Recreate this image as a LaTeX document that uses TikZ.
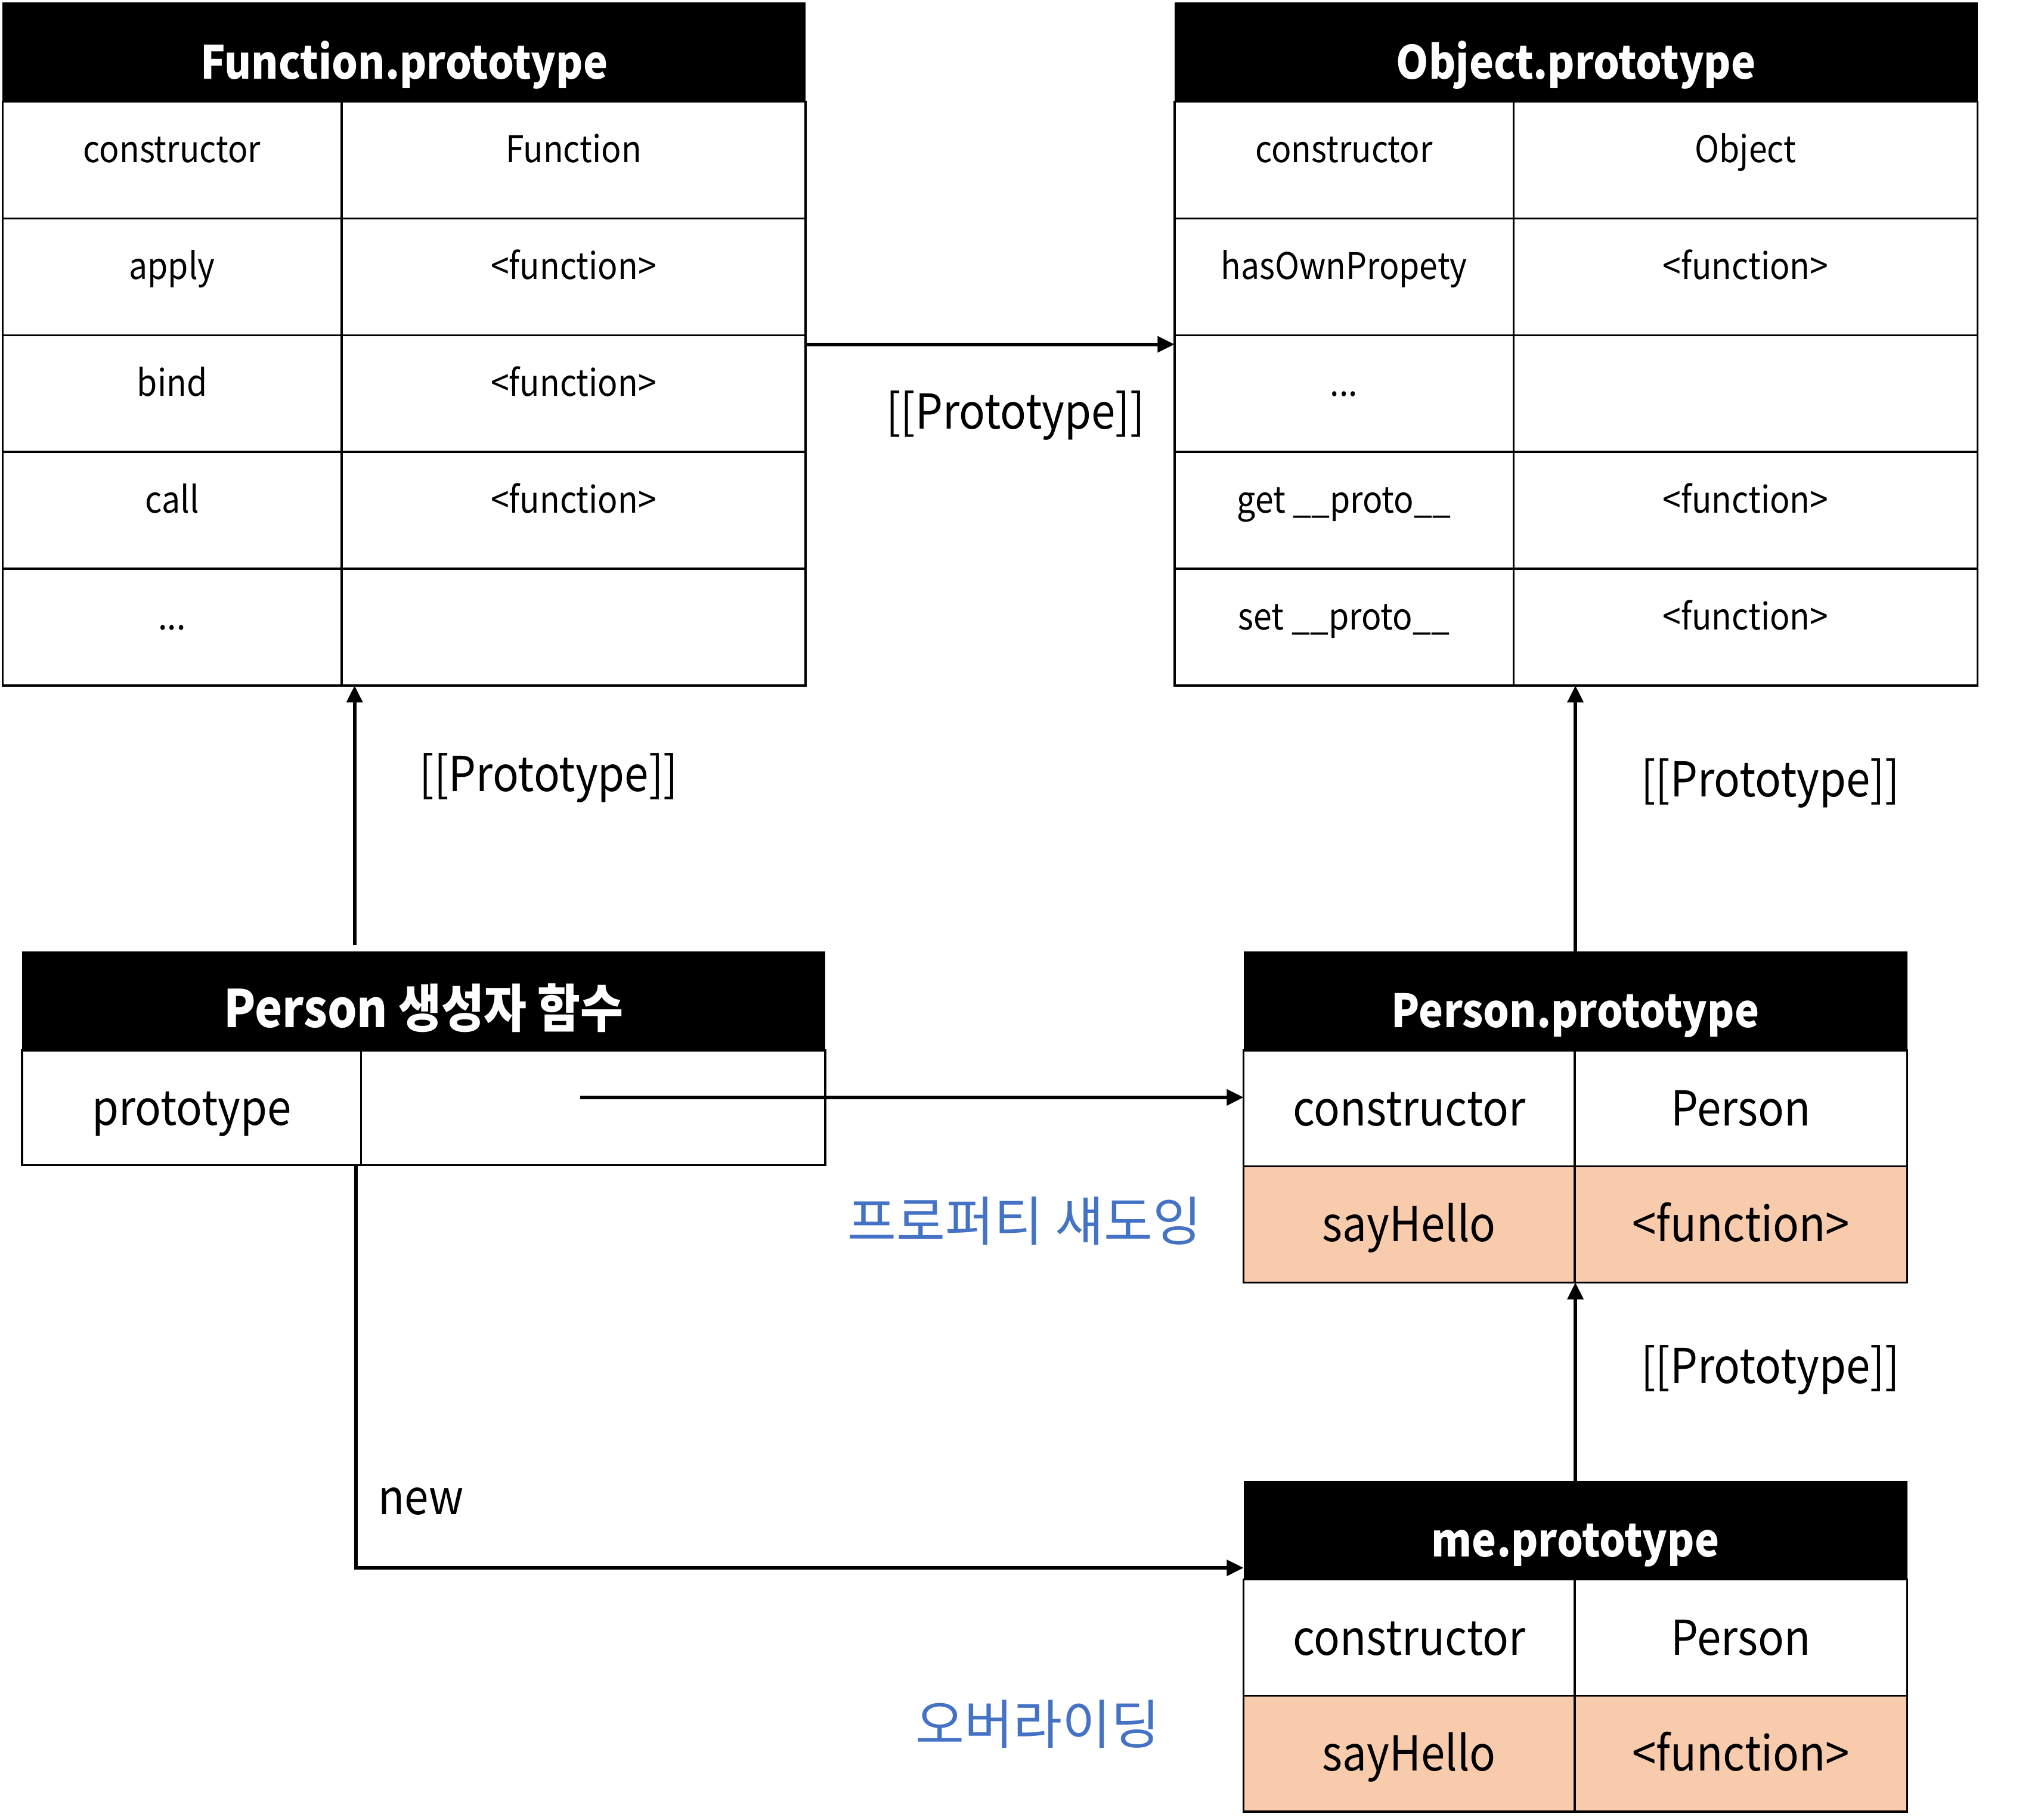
\documentclass[tikz,border=0pt]{standalone}
\usepackage{fontspec}
\setmainfont{Noto Sans CJK KR}[FakeStretch=0.9]
\newfontfamily\krnotefont{Noto Sans CJK KR}
\usepackage{tikz}
\usetikzlibrary{calc,arrows.meta,positioning}
\definecolor{shadowBlue}{RGB}{68,114,196}
\definecolor{overridePeach}{RGB}{248,203,173}
\newcommand{\moredots}{.\kern0pt.\kern0pt.}

\begin{document}
\begin{tikzpicture}[
  hdr/.style={fill=black, text=white, font=\bfseries\fontsize{10}{12}\selectfont,
    minimum height=0.76cm, inner sep=0pt, outer sep=0pt, text height=0.45cm, text depth=0.04cm, anchor=north west},
  cellbox/.style={draw, line width=0.45pt, inner sep=0pt, outer sep=0pt, anchor=north west},
  smallcell/.style={cellbox, minimum height=0.896cm, text height=0.20cm, text depth=0.16cm,
    font=\fontsize{8}{10}\selectfont},
  bigcell/.style={cellbox, minimum height=0.89cm, text height=0.30cm, text depth=0.035cm,
    font=\fontsize{10.5}{12}\selectfont},
  arr/.style={line width=0.8pt, -{Triangle[length=0.13cm,width=0.12cm]}},
  lbl/.style={font=\fontsize{10.5}{12}\selectfont},
  krnote/.style={text=shadowBlue, font=\krnotefont\fontsize{11.6}{13}\selectfont}
]
\useasboundingbox (0,0) rectangle (15.68,-13.94);

% Function.prototype
\node[hdr, minimum width=6.16cm] (fph) at (0.02,-0.02) {Function.prototype};
\foreach \k/\v [count=\i] in {constructor/Function, apply/<function>, bind/<function>,
  call/<function>, {\moredots}/{}}
{
  \node[smallcell, minimum width=2.60cm] (fpk\i) at ($(fph.south west)+(0,{-0.896*(\i-1)})$) {\k};
  \node[smallcell, minimum width=3.56cm, right=0pt of fpk\i] (fpv\i) {\v};
}

% Object.prototype
\node[hdr, minimum width=6.16cm] (oph) at (9.01,-0.02) {Object.prototype};
\foreach \k/\v [count=\i] in {constructor/Object, hasOwnPropety/<function>, {\moredots}/{},
  get \_\_proto\_\_/<function>, set \_\_proto\_\_/<function>}
{
  \node[smallcell, minimum width=2.60cm] (opk\i) at ($(oph.south west)+(0,{-0.896*(\i-1)})$) {\k};
  \node[smallcell, minimum width=3.56cm, right=0pt of opk\i] (opv\i) {\v};
}

% Person constructor
\node[hdr, minimum width=6.16cm, font=\bfseries\fontsize{11.3}{13}\selectfont] (pch) at (0.17,-7.30) {Person 생성자 함수};
\node[bigcell, minimum width=2.60cm, minimum height=0.88cm] (pck) at (pch.south west) {prototype};
\node[bigcell, minimum width=3.56cm, minimum height=0.88cm, right=0pt of pck] (pcv) {};

% Person.prototype
\node[hdr, minimum width=5.09cm] (pph) at (9.54,-7.30) {Person.prototype};
\foreach \k/\v/\c [count=\i] in {constructor/Person/white, sayHello/<function>/overridePeach}
{
  \node[bigcell, fill=\c, minimum width=2.54cm] (ppk\i) at ($(pph.south west)+(0,{-0.89*(\i-1)})$) {\k};
  \node[bigcell, fill=\c, minimum width=2.55cm, right=0pt of ppk\i] (ppv\i) {\v};
}

% me.prototype
\node[hdr, minimum width=5.09cm] (mph) at (9.54,-11.36) {me.prototype};
\foreach \k/\v/\c [count=\i] in {constructor/Person/white, sayHello/<function>/overridePeach}
{
  \node[bigcell, fill=\c, minimum width=2.54cm] (mpk\i) at ($(mph.south west)+(0,{-0.89*(\i-1)})$) {\k};
  \node[bigcell, fill=\c, minimum width=2.55cm, right=0pt of mpk\i] (mpv\i) {\v};
}

% links
\draw[arr] ([yshift=-0.07cm]fpv3.north east) -- ([yshift=-0.07cm]opk3.north west);
\node[lbl] (l1) at (7.79,-3.19) {[[Prototype]]};

\coordinate (pcup) at ([xshift=2.55cm,yshift=0.05cm]pch.north west);
\draw[arr] (pcup) -- (pcup |- fpk5.south);
\node[lbl] (l2) at (4.21,-5.97) {[[Prototype]]};

\coordinate (pcst) at ([xshift=-0.10cm,yshift=0.08cm]pcv.center);
\draw[arr] (pcst) -- (pcst -| ppk1.west);

\draw[arr] (pph.north) -- (pph.north |- opk5.south);
\node[lbl] (l3) at (13.58,-6.01) {[[Prototype]]};

\draw[arr] (mph.north) -- (mph.north |- ppk2.south);
\node[lbl] (l4) at (13.58,-10.51) {[[Prototype]]};

\coordinate (newst) at ([xshift=2.56cm]pck.south west);
\draw[arr] (newst) |- ([yshift=0.09cm]mph.south west);
\node[lbl] (l5) at (3.23,-11.52) {new};

\node[krnote] (shadow) at (7.86,-9.37) {프로퍼티 섀도잉};
\node[krnote] (override) at (7.96,-13.23) {오버라이딩};
\end{tikzpicture}
\end{document}
